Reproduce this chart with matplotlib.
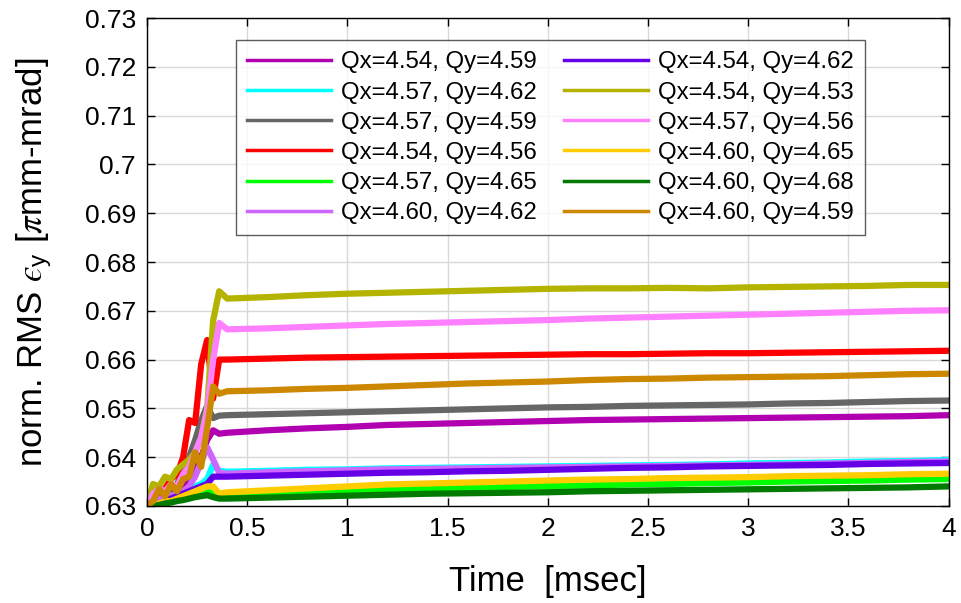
import matplotlib
matplotlib.use("Agg")
import matplotlib.pyplot as plt

plt.rcParams['font.family'] = ['Liberation Sans', 'DejaVu Sans']
plt.rcParams['mathtext.fontset'] = 'custom'
plt.rcParams['mathtext.rm'] = 'Liberation Sans'
plt.rcParams['mathtext.it'] = 'STIXGeneral:italic'
plt.rcParams['mathtext.fallback'] = 'stix'

time_ms = [0.00, 0.03, 0.06, 0.09, 0.12, 0.15, 0.18, 0.21, 0.24, 0.27, 0.30, 0.33, 0.36,
           0.4, 0.6, 0.8, 1.0, 1.2, 1.4, 1.6, 1.8, 2.0, 2.2, 2.4, 2.6, 2.8, 3.0,
           3.2, 3.4, 3.6, 3.8, 4.0]

labels = [
    "Qx=4.54, Qy=4.59", "Qx=4.57, Qy=4.62", "Qx=4.57, Qy=4.59",
    "Qx=4.54, Qy=4.56", "Qx=4.57, Qy=4.65", "Qx=4.60, Qy=4.62",
    "Qx=4.54, Qy=4.62", "Qx=4.54, Qy=4.53", "Qx=4.57, Qy=4.56",
    "Qx=4.60, Qy=4.65", "Qx=4.60, Qy=4.68", "Qx=4.60, Qy=4.59",
]

colors = ["#B000B0", "#00FFFF", "#666666", "#FF0000", "#00FF00", "#CC66FF",
          "#6600E6", "#B3B300", "#FF80FF", "#FFCC00", "#007A00", "#CC8800"]

emit_454_459 = [0.630, 0.6305, 0.631, 0.6315, 0.632, 0.633, 0.6335, 0.635, 0.637, 0.640, 0.6435, 0.6455, 0.6448,
                0.6450, 0.6455, 0.6459, 0.6462, 0.6466, 0.6468, 0.6470, 0.6472, 0.6474, 0.6476, 0.6477,
                0.6478, 0.6479, 0.6480, 0.6481, 0.6482, 0.6483, 0.6484, 0.6486]
emit_457_462 = [0.630, 0.6305, 0.631, 0.6315, 0.632, 0.6325, 0.633, 0.6335, 0.634, 0.6345, 0.6355, 0.6385, 0.6372,
                0.6370, 0.6372, 0.6374, 0.6375, 0.6377, 0.6378, 0.6379, 0.6380, 0.6381, 0.6382, 0.6383,
                0.6384, 0.6385, 0.6387, 0.6388, 0.6389, 0.6391, 0.6392, 0.6394]
emit_457_459 = [0.630, 0.631, 0.632, 0.633, 0.6335, 0.6345, 0.637, 0.640, 0.6435, 0.6475, 0.6505, 0.648, 0.6485,
                0.6486, 0.6488, 0.6490, 0.6492, 0.6494, 0.6496, 0.6498, 0.6500, 0.6502, 0.6503, 0.6505,
                0.6506, 0.6507, 0.6508, 0.6510, 0.6511, 0.6513, 0.6515, 0.6516]
emit_454_456 = [0.630, 0.6316, 0.633, 0.6335, 0.6355, 0.6365, 0.640, 0.6476, 0.647, 0.659, 0.664, 0.652, 0.660,
                0.6600, 0.6602, 0.6604, 0.6605, 0.6606, 0.6607, 0.6608, 0.6609, 0.6610, 0.6611, 0.6611,
                0.6612, 0.6613, 0.6613, 0.6614, 0.6615, 0.6616, 0.6617, 0.6618]
emit_457_465 = [0.630, 0.6302, 0.6305, 0.6308, 0.631, 0.6312, 0.6315, 0.632, 0.6322, 0.6325, 0.633, 0.6325, 0.6318,
                0.6318, 0.6322, 0.6326, 0.6330, 0.6333, 0.6335, 0.6337, 0.6339, 0.6341, 0.6342, 0.6344,
                0.6345, 0.6347, 0.6348, 0.6350, 0.6351, 0.6352, 0.6354, 0.6355]
emit_460_462 = [0.630, 0.6305, 0.6315, 0.631, 0.632, 0.6325, 0.633, 0.634, 0.636, 0.639, 0.642, 0.6395, 0.6368,
                0.6366, 0.6369, 0.6371, 0.6373, 0.6375, 0.6376, 0.6377, 0.6378, 0.6379, 0.6380, 0.6381,
                0.6382, 0.6383, 0.6384, 0.6385, 0.6387, 0.6388, 0.6390, 0.6391]
emit_454_462 = [0.630, 0.6302, 0.6305, 0.631, 0.6315, 0.632, 0.6325, 0.633, 0.6335, 0.634, 0.6345, 0.636, 0.6360,
                0.6360, 0.6362, 0.6364, 0.6366, 0.6368, 0.6369, 0.6371, 0.6372, 0.6374, 0.6376, 0.6378,
                0.6379, 0.6381, 0.6382, 0.6383, 0.6384, 0.6386, 0.6387, 0.6388]
emit_454_453 = [0.630, 0.6345, 0.634, 0.6360, 0.6355, 0.6375, 0.6385, 0.6395, 0.641, 0.644, 0.650, 0.668, 0.6740,
                0.6725, 0.6728, 0.6732, 0.6735, 0.6737, 0.6739, 0.6741, 0.6743, 0.6745, 0.6746, 0.6746,
                0.6747, 0.6746, 0.6748, 0.6749, 0.6750, 0.6751, 0.6753, 0.6753]
emit_457_456 = [0.630, 0.6325, 0.6335, 0.6330, 0.6345, 0.634, 0.6365, 0.638, 0.641, 0.644, 0.6495, 0.660, 0.6675,
                0.6662, 0.6664, 0.6667, 0.6670, 0.6673, 0.6675, 0.6677, 0.6679, 0.6681, 0.6684, 0.6686,
                0.6688, 0.6690, 0.6692, 0.6694, 0.6696, 0.6698, 0.6700, 0.6701]
emit_460_465 = [0.630, 0.6302, 0.6305, 0.631, 0.631, 0.6315, 0.632, 0.6325, 0.633, 0.6335, 0.634, 0.634, 0.6325,
                0.6328, 0.6332, 0.6336, 0.6340, 0.6344, 0.6346, 0.6348, 0.6350, 0.6352, 0.6354, 0.6355,
                0.6357, 0.6358, 0.6359, 0.6361, 0.6362, 0.6363, 0.6365, 0.6366]
emit_460_468 = [0.630, 0.630, 0.6302, 0.6305, 0.6307, 0.631, 0.6312, 0.6315, 0.6318, 0.632, 0.6322, 0.6318, 0.6315,
                0.6315, 0.6317, 0.6319, 0.6321, 0.6323, 0.6325, 0.6326, 0.6327, 0.6328, 0.6330, 0.6331,
                0.6332, 0.6333, 0.6334, 0.6335, 0.6336, 0.6337, 0.6338, 0.6340]
emit_460_459 = [0.630, 0.631, 0.6335, 0.632, 0.6345, 0.633, 0.6355, 0.636, 0.641, 0.638, 0.646, 0.6545, 0.653,
                0.6535, 0.6537, 0.6540, 0.6542, 0.6545, 0.6548, 0.6551, 0.6553, 0.6555, 0.6558, 0.6560,
                0.6561, 0.6563, 0.6564, 0.6565, 0.6566, 0.6568, 0.6570, 0.6571]

series = [emit_454_459, emit_457_462, emit_457_459, emit_454_456, emit_457_465, emit_460_462,
          emit_454_462, emit_454_453, emit_457_456, emit_460_465, emit_460_468, emit_460_459]

x_ticks = [0, 0.5, 1, 1.5, 2, 2.5, 3, 3.5, 4]
x_ticklabels = ["0", "0.5", "1", "1.5", "2", "2.5", "3", "3.5", "4"]
y_ticks = [0.63, 0.64, 0.65, 0.66, 0.67, 0.68, 0.69, 0.70, 0.71, 0.72, 0.73]
y_ticklabels = ["0.63", "0.64", "0.65", "0.66", "0.67", "0.68", "0.69", "0.7", "0.71", "0.72", "0.73"]

fig = plt.figure(figsize=(9.61, 6.03), dpi=100)
ax = fig.add_axes([0.153, 0.161, 0.834, 0.809])

for vals, c, lab in zip(series, colors, labels):
    ax.plot(time_ms, vals, color=c, lw=4.5, label=lab, solid_joinstyle='round')

ax.set_xlim(0, 4)
ax.set_ylim(0.63, 0.73)
ax.set_xticks(x_ticks)
ax.set_xticklabels(x_ticklabels)
ax.set_yticks(y_ticks)
ax.set_yticklabels(y_ticklabels)
ax.tick_params(direction='in', labelsize=19, length=6, width=1, top=True, right=True, pad=8)
ax.grid(True, color='#d9d9d9', lw=1)
ax.set_axisbelow(True)
for s in ax.spines.values():
    s.set_linewidth(1)
    s.set_color('black')

ax.set_xlabel("Time  [msec]", fontsize=25, labelpad=17)
ax.set_ylabel("norm. RMS $\\mathit{\u03f5}_{\\mathrm{y}}$ [$\\mathit{\u03c0}$mm-mrad]",
              fontsize=25, labelpad=22)

leg = ax.legend(ncol=2, loc='upper left', bbox_to_anchor=(0.1105, 0.955), fontsize=17.3,
                frameon=True, fancybox=False, edgecolor='#333333', handlelength=3.5,
                handletextpad=0.4, columnspacing=1.15, labelspacing=0.34, borderpad=0.47,
                borderaxespad=0)
leg.get_frame().set_linewidth(1)
for h in leg.get_lines():
    h.set_linewidth(2.5)

fig.savefig("out.png", dpi=100)
